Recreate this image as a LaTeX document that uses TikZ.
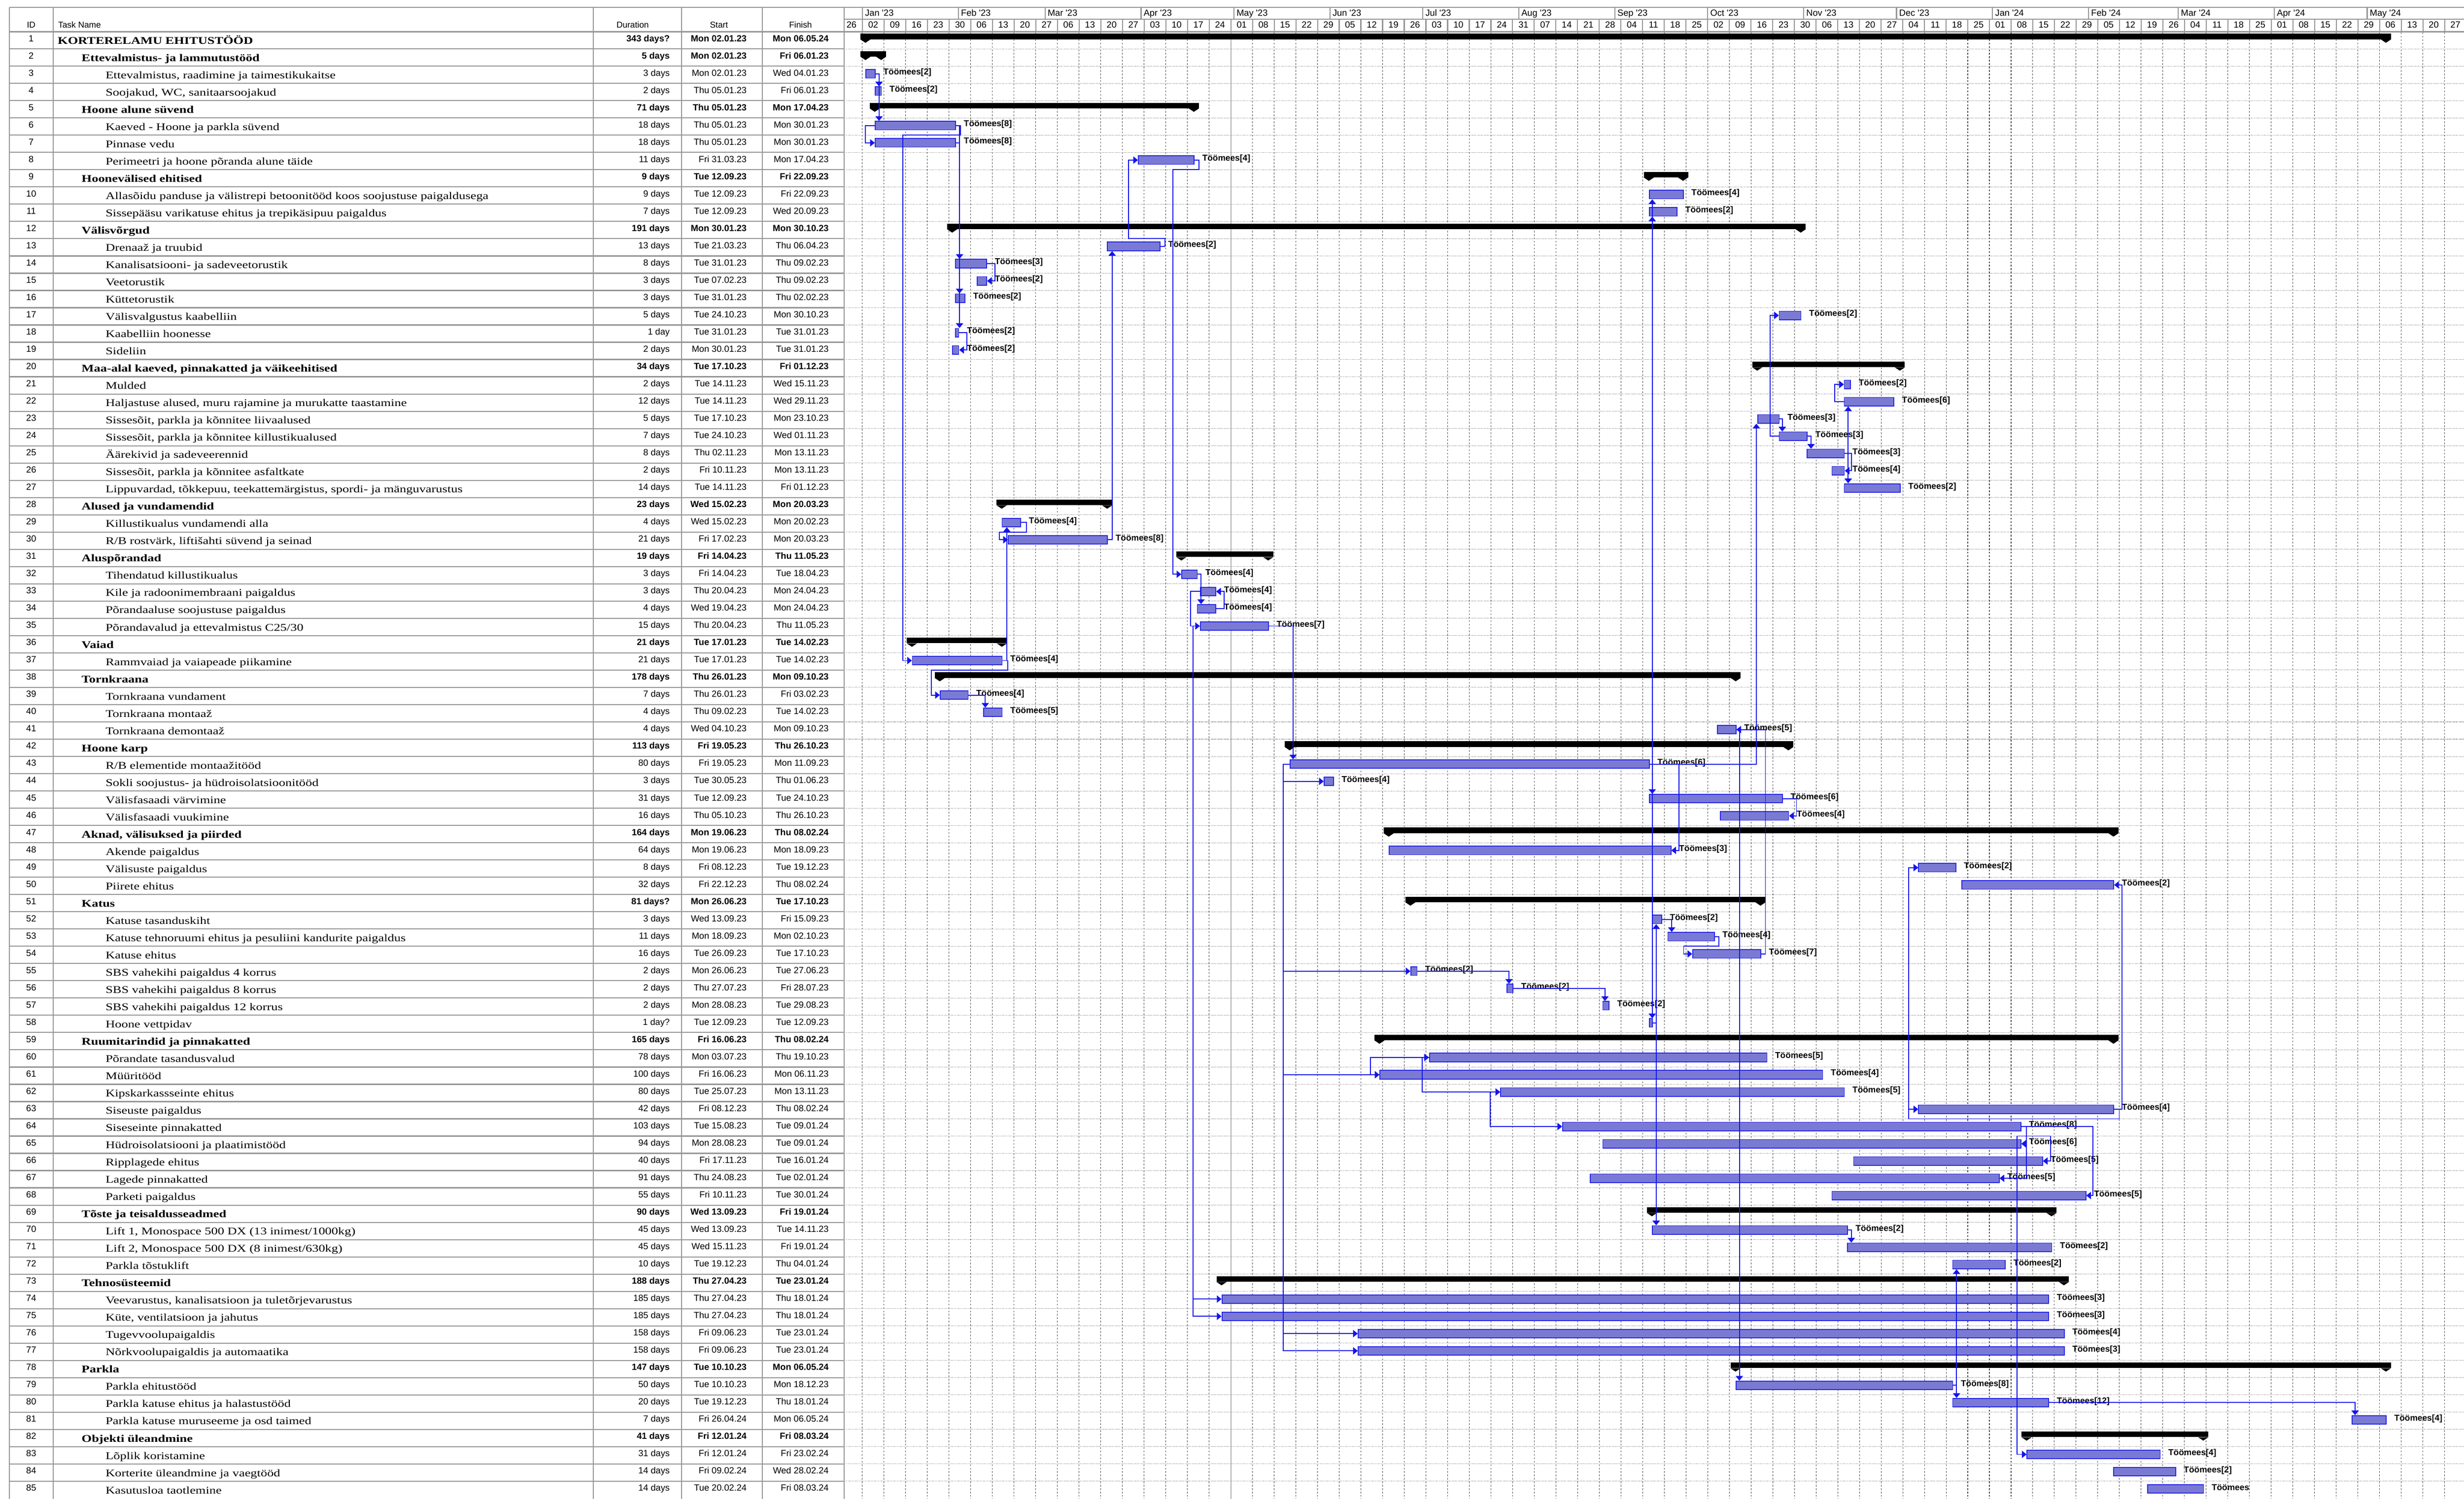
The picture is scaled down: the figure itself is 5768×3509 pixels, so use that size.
\documentclass[tikz,border=0pt]{standalone}
\usepackage{fontspec}
\usetikzlibrary{arrows.meta,calc}
\newfontfamily\namefont[FakeStretch=1.27]{Liberation Serif}
\newfontfamily\cellfont{Liberation Sans}
\definecolor{linkblue}{RGB}{20,20,235}
\definecolor{barfill}{RGB}{122,122,212}
\definecolor{barline}{RGB}{40,40,230}
\definecolor{rulegray}{RGB}{150,150,150}
\pgfdeclarelayer{gridlayer}
\pgfdeclarelayer{edgelayer}
\pgfdeclarelayer{nodelayer}
\pgfsetlayers{gridlayer,nodelayer,edgelayer,main}
\tikzstyle{tablerule}=[draw=rulegray, line width=2.5pt]
\tikzstyle{rowrule}=[draw=black!45, line width=1.2pt, dash pattern=on 1.5pt off 1.5pt]
\tikzstyle{weekrule}=[draw=black!70, line width=1.2pt, dash pattern=on 4pt off 4pt]
\tikzstyle{headcell}=[anchor=base, inner sep=0pt, font=\cellfont\fontsize{20}{24}\selectfont]
\tikzstyle{monthcell}=[anchor=base west, inner sep=0pt, font=\cellfont\fontsize{21}{24}\selectfont]
\tikzstyle{weekcell}=[anchor=base, inner sep=0pt, font=\cellfont\fontsize{21}{24}\selectfont]
\tikzstyle{idcell}=[anchor=base, inner sep=0pt, font=\cellfont\fontsize{21}{24}\selectfont]
\tikzstyle{name1}=[anchor=base west, inner sep=0pt, xshift=135pt, yshift=-6pt, font=\namefont\bfseries\fontsize{24}{28}\selectfont]
\tikzstyle{name2}=[anchor=base west, inner sep=0pt, xshift=191pt, yshift=-6pt, font=\namefont\bfseries\fontsize{24}{28}\selectfont]
\tikzstyle{name3}=[anchor=base west, inner sep=0pt, xshift=247pt, yshift=-6pt, font=\namefont\fontsize{24}{28}\selectfont]
\tikzstyle{cell1}=[anchor=base east, inner sep=0pt, font=\cellfont\bfseries\fontsize{21}{24}\selectfont]
\tikzstyle{cell2}=[cell1]
\tikzstyle{cell3}=[anchor=base east, inner sep=0pt, font=\cellfont\fontsize{21}{24}\selectfont]
\tikzstyle{sumbar}=[fill=black, minimum height=13pt, inner sep=0pt, anchor=west, xshift=-12pt, yshift=6.5pt]
\tikzstyle{taskbar}=[draw=barline, fill=barfill, line width=2pt, minimum height=20pt, inner sep=0pt, anchor=west]
\tikzstyle{crew}=[anchor=west, inner sep=0pt, xshift=18pt, yshift=3pt, font=\cellfont\bfseries\fontsize{20}{22}\selectfont]
\tikzstyle{link}=[draw=linkblue, line width=2.2pt, -{Triangle[width=17pt,length=11pt]}]

\begin{document}
\begin{tikzpicture}[x=1pt, y=-1pt]
	\useasboundingbox (0,0) rectangle (5768,3509);
	\begin{pgfonlayer}{gridlayer}
		\fill[white] (0,0) rectangle (5768,3509);
		\foreach \k in {0,...,73} \draw[weekrule] ({2018.75+50.736*\k},76) -- ({2018.75+50.736*\k},3509);
		\foreach \k in {1,...,84} {
			\draw[rowrule] (1976,{74+40.4*\k}) -- (5768,{74+40.4*\k});
			\draw[tablerule] (22,{74+40.4*\k}) -- (1976,{74+40.4*\k});
		}
		\draw[line width=2pt, black!30] (2882,76) -- (2882,3509);
		\foreach \x in {22,125,1389,1595,1785,1976} \draw[tablerule] (\x,17) -- (\x,3509);
		\draw[tablerule] (22,17) -- (5768,17);
		\draw[tablerule] (1976,45) -- (5768,45);
		\draw[tablerule, line width=4pt] (22,74.5) -- (5768,74.5);
		\foreach \d in {-1,30,58,89,119,150,180,211,242,272,303,333,364,395,424,455,485} \draw[tablerule] ({2026+7.248*\d},17) -- ({2026+7.248*\d},45);
		\foreach \k in {0,...,73} \draw[tablerule] ({2018.75+50.736*\k},45) -- ({2018.75+50.736*\k},74);
	\end{pgfonlayer}
	\begin{pgfonlayer}{nodelayer}
		\node [style=headcell] (hid) at (73,65) {ID};
		\node [style=headcell, anchor=base west] (hname) at (136,65) {Task Name};
		\node [style=headcell] (hdur) at (1481,65) {Duration};
		\node [style=headcell] (hstart) at (1683,65) {Start};
		\node [style=headcell] (hfin) at (1874,65) {Finish};
		\foreach \d/\m [count=\c] in {-1/Jan '23, 30/Feb '23, 58/Mar '23, 89/Apr '23, 119/May '23, 150/Jun '23, 180/Jul '23, 211/Aug '23, 242/Sep '23, 272/Oct '23, 303/Nov '23, 333/Dec '23, 364/Jan '24, 395/Feb '24, 424/Mar '24, 455/Apr '24, 485/May '24}
			\node [style=monthcell] (mo\c) at ({2032+7.248*\d},38) {\m};
		\foreach \w [count=\k from 0] in {26,02,09,16,23,30,06,13,20,27,06,13,20,27,03,10,17,24,01,08,15,22,29,05,12,19,26,03,10,17,24,31,07,14,21,28,04,11,18,25,02,09,16,23,30,06,13,20,27,04,11,18,25,01,08,15,22,29,05,12,19,26,04,11,18,25,01,08,15,22,29,06,13,20,27}
			\node [style=weekcell] (wk\k) at ({1993.38+50.736*\k},65) {\w};
	\end{pgfonlayer}
	\begin{scope}[yshift=-56.6pt, y=-40.4pt]
	\begin{pgfonlayer}{nodelayer}
		\foreach \rid/\lv/\nm/\du/\sta/\fin in {
			1/1/KORTERELAMU EHITUSTÖÖD/343 days?/Mon 02.01.23/Mon 06.05.24,
			2/2/Ettevalmistus- ja lammutustööd/5 days/Mon 02.01.23/Fri 06.01.23,
			3/3/{Ettevalmistus, raadimine ja taimestikukaitse}/3 days/Mon 02.01.23/Wed 04.01.23,
			4/3/{Soojakud, WC, sanitaarsoojakud}/2 days/Thu 05.01.23/Fri 06.01.23,
			5/2/Hoone alune süvend/71 days/Thu 05.01.23/Mon 17.04.23,
			6/3/Kaeved - Hoone ja parkla süvend/18 days/Thu 05.01.23/Mon 30.01.23,
			7/3/Pinnase vedu/18 days/Thu 05.01.23/Mon 30.01.23,
			8/3/Perimeetri ja hoone põranda alune täide/11 days/Fri 31.03.23/Mon 17.04.23,
			9/2/Hoonevälised ehitised/9 days/Tue 12.09.23/Fri 22.09.23,
			10/3/Allasõidu panduse ja välistrepi betoonitööd koos soojustuse paigaldusega/9 days/Tue 12.09.23/Fri 22.09.23,
			11/3/Sissepääsu varikatuse ehitus ja trepikäsipuu paigaldus/7 days/Tue 12.09.23/Wed 20.09.23,
			12/2/Välisvõrgud/191 days/Mon 30.01.23/Mon 30.10.23,
			13/3/Drenaaž ja truubid/13 days/Tue 21.03.23/Thu 06.04.23,
			14/3/Kanalisatsiooni- ja sadeveetorustik/8 days/Tue 31.01.23/Thu 09.02.23,
			15/3/Veetorustik/3 days/Tue 07.02.23/Thu 09.02.23,
			16/3/Küttetorustik/3 days/Tue 31.01.23/Thu 02.02.23,
			17/3/Välisvalgustus kaabelliin/5 days/Tue 24.10.23/Mon 30.10.23,
			18/3/Kaabelliin hoonesse/1 day/Tue 31.01.23/Tue 31.01.23,
			19/3/Sideliin/2 days/Mon 30.01.23/Tue 31.01.23,
			20/2/{Maa-alal kaeved, pinnakatted ja väikeehitised}/34 days/Tue 17.10.23/Fri 01.12.23,
			21/3/Mulded/2 days/Tue 14.11.23/Wed 15.11.23,
			22/3/{Haljastuse alused, muru rajamine ja murukatte taastamine}/12 days/Tue 14.11.23/Wed 29.11.23,
			23/3/{Sissesõit, parkla ja kõnnitee liivaalused}/5 days/Tue 17.10.23/Mon 23.10.23,
			24/3/{Sissesõit, parkla ja kõnnitee killustikualused}/7 days/Tue 24.10.23/Wed 01.11.23,
			25/3/Äärekivid ja sadeveerennid/8 days/Thu 02.11.23/Mon 13.11.23,
			26/3/{Sissesõit, parkla ja kõnnitee asfaltkate}/2 days/Fri 10.11.23/Mon 13.11.23,
			27/3/{Lippuvardad, tõkkepuu, teekattemärgistus, spordi- ja mänguvarustus}/14 days/Tue 14.11.23/Fri 01.12.23,
			28/2/Alused ja vundamendid/23 days/Wed 15.02.23/Mon 20.03.23,
			29/3/Killustikualus vundamendi alla/4 days/Wed 15.02.23/Mon 20.02.23,
			30/3/{R/B rostvärk, liftišahti süvend ja seinad}/21 days/Fri 17.02.23/Mon 20.03.23,
			31/2/Aluspõrandad/19 days/Fri 14.04.23/Thu 11.05.23,
			32/3/Tihendatud killustikualus/3 days/Fri 14.04.23/Tue 18.04.23,
			33/3/Kile ja radoonimembraani paigaldus/3 days/Thu 20.04.23/Mon 24.04.23,
			34/3/Põrandaaluse soojustuse paigaldus/4 days/Wed 19.04.23/Mon 24.04.23,
			35/3/{Põrandavalud ja ettevalmistus C25/30}/15 days/Thu 20.04.23/Thu 11.05.23,
			36/2/Vaiad/21 days/Tue 17.01.23/Tue 14.02.23,
			37/3/Rammvaiad ja vaiapeade piikamine/21 days/Tue 17.01.23/Tue 14.02.23,
			38/2/Tornkraana/178 days/Thu 26.01.23/Mon 09.10.23,
			39/3/Tornkraana vundament/7 days/Thu 26.01.23/Fri 03.02.23,
			40/3/Tornkraana montaaž/4 days/Thu 09.02.23/Tue 14.02.23,
			41/3/Tornkraana demontaaž/4 days/Wed 04.10.23/Mon 09.10.23,
			42/2/Hoone karp/113 days/Fri 19.05.23/Thu 26.10.23,
			43/3/{R/B elementide montaažitööd}/80 days/Fri 19.05.23/Mon 11.09.23,
			44/3/Sokli soojustus- ja hüdroisolatsioonitööd/3 days/Tue 30.05.23/Thu 01.06.23,
			45/3/Välisfasaadi värvimine/31 days/Tue 12.09.23/Tue 24.10.23,
			46/3/Välisfasaadi vuukimine/16 days/Thu 05.10.23/Thu 26.10.23,
			47/2/{Aknad, välisuksed ja piirded}/164 days/Mon 19.06.23/Thu 08.02.24,
			48/3/Akende paigaldus/64 days/Mon 19.06.23/Mon 18.09.23,
			49/3/Välisuste paigaldus/8 days/Fri 08.12.23/Tue 19.12.23,
			50/3/Piirete ehitus/32 days/Fri 22.12.23/Thu 08.02.24,
			51/2/Katus/81 days?/Mon 26.06.23/Tue 17.10.23,
			52/3/Katuse tasanduskiht/3 days/Wed 13.09.23/Fri 15.09.23,
			53/3/Katuse tehnoruumi ehitus ja pesuliini kandurite paigaldus/11 days/Mon 18.09.23/Mon 02.10.23,
			54/3/Katuse ehitus/16 days/Tue 26.09.23/Tue 17.10.23,
			55/3/SBS vahekihi paigaldus 4 korrus/2 days/Mon 26.06.23/Tue 27.06.23,
			56/3/SBS vahekihi paigaldus 8 korrus/2 days/Thu 27.07.23/Fri 28.07.23,
			57/3/SBS vahekihi paigaldus 12 korrus/2 days/Mon 28.08.23/Tue 29.08.23,
			58/3/Hoone vettpidav/1 day?/Tue 12.09.23/Tue 12.09.23,
			59/2/Ruumitarindid ja pinnakatted/165 days/Fri 16.06.23/Thu 08.02.24,
			60/3/Põrandate tasandusvalud/78 days/Mon 03.07.23/Thu 19.10.23,
			61/3/Müüritööd/100 days/Fri 16.06.23/Mon 06.11.23,
			62/3/Kipskarkassseinte ehitus/80 days/Tue 25.07.23/Mon 13.11.23,
			63/3/Siseuste paigaldus/42 days/Fri 08.12.23/Thu 08.02.24,
			64/3/Siseseinte pinnakatted/103 days/Tue 15.08.23/Tue 09.01.24,
			65/3/Hüdroisolatsiooni ja plaatimistööd/94 days/Mon 28.08.23/Tue 09.01.24,
			66/3/Ripplagede ehitus/40 days/Fri 17.11.23/Tue 16.01.24,
			67/3/Lagede pinnakatted/91 days/Thu 24.08.23/Tue 02.01.24,
			68/3/Parketi paigaldus/55 days/Fri 10.11.23/Tue 30.01.24,
			69/2/Tõste ja teisaldusseadmed/90 days/Wed 13.09.23/Fri 19.01.24,
			70/3/{Lift 1, Monospace 500 DX (13 inimest/1000kg)}/45 days/Wed 13.09.23/Tue 14.11.23,
			71/3/{Lift 2, Monospace 500 DX (8 inimest/630kg)}/45 days/Wed 15.11.23/Fri 19.01.24,
			72/3/Parkla tõstuklift/10 days/Tue 19.12.23/Thu 04.01.24,
			73/2/Tehnosüsteemid/188 days/Thu 27.04.23/Tue 23.01.24,
			74/3/{Veevarustus, kanalisatsioon ja tuletõrjevarustus}/185 days/Thu 27.04.23/Thu 18.01.24,
			75/3/{Küte, ventilatsioon ja jahutus}/185 days/Thu 27.04.23/Thu 18.01.24,
			76/3/Tugevvoolupaigaldis/158 days/Fri 09.06.23/Tue 23.01.24,
			77/3/Nõrkvoolupaigaldis ja automaatika/158 days/Fri 09.06.23/Tue 23.01.24,
			78/2/Parkla/147 days/Tue 10.10.23/Mon 06.05.24,
			79/3/Parkla ehitustööd/50 days/Tue 10.10.23/Mon 18.12.23,
			80/3/Parkla katuse ehitus ja halastustööd/20 days/Tue 19.12.23/Thu 18.01.24,
			81/3/Parkla katuse muruseeme ja osd taimed/7 days/Fri 26.04.24/Mon 06.05.24,
			82/2/Objekti üleandmine/41 days/Fri 12.01.24/Fri 08.03.24,
			83/3/Lõplik koristamine/31 days/Fri 12.01.24/Fri 23.02.24,
			84/3/Korterite üleandmine ja vaegtööd/14 days/Fri 09.02.24/Wed 28.02.24,
			85/3/Kasutusloa taotlemine/14 days/Tue 20.02.24/Fri 08.03.24}
		{
			\node [style=idcell] (id\rid) at (73,\rid) {\rid};
			\node [style=name\lv] (nm\rid) at (0,\rid) {\nm};
			\node [style=cell\lv] (du\rid) at (1568,\rid) {\du};
			\node [style=cell\lv] (st\rid) at (1748,\rid) {\sta};
			\node [style=cell\lv] (fi\rid) at (1940,\rid) {\fin};
		}
	\end{pgfonlayer}
	\end{scope}
	\begin{scope}[xshift=2026pt, yshift=-51.6pt, x=7.248pt, y=-40.4pt]
	\begin{pgfonlayer}{nodelayer}
		\foreach \br/\bs/\bn in {1/0/491, 2/0/5, 5/3/103, 9/253/11, 12/28/274, 20/288/46, 28/44/34, 31/102/28, 36/15/29, 38/24/257, 42/137/161, 47/169/234, 51/176/113, 59/166/237, 69/254/129, 73/115/272, 78/281/210, 82/375/57} {
			\node [style=sumbar, minimum width={\bn*7.248pt+24pt}] (s\br) at (\bs,\br) {};
			\fill (s\br.south west) -- ++(24pt,0) -- ++(-12pt,-8pt) -- cycle;
			\fill (s\br.south east) -- ++(-24pt,0) -- ++(12pt,-8pt) -- cycle;
		}
		\foreach \br/\bs/\bn/\bw in {3/0/3/2, 4/3/2/2, 6/3/26/8, 7/3/26/8, 8/88/18/4, 10/253/11/4, 11/253/9/2, 13/78/17/2, 14/29/10/3, 15/36/3/2, 16/29/3/2, 17/295/7/2, 18/29/1/2, 19/28/2/2, 21/316/2/2, 22/316/16/6, 23/288/7/3, 24/295/9/3, 25/304/12/3, 26/312/4/4, 27/316/18/2, 29/44/6/4, 30/46/32/8, 32/102/5/4, 33/108/5/4, 34/107/6/4, 35/108/22/7, 37/15/29/4, 39/24/9/4, 40/38/6/5, 41/275/6/5, 43/137/116/6, 44/148/3/4, 45/253/43/6, 46/276/22/4, 48/169/91/3, 49/340/12/2, 50/354/49/2, 52/254/3/2, 53/259/15/4, 54/267/22/7, 55/176/2/2, 56/207/2/2, 57/238/2/2, 60/182/109/5, 61/166/143/4, 62/205/111/5, 63/340/63/4, 64/225/148/8, 65/238/135/6, 66/319/61/5, 67/234/132/5, 68/312/82/5, 70/254/63/2, 71/317/66/2, 72/351/17/2, 74/115/267/3, 75/115/267/3, 76/159/228/4, 77/159/228/3, 79/281/70/8, 80/351/31/12, 81/480/11/4, 83/375/43/4, 84/403/20/2} {
			\node [style=taskbar, minimum width=\bn*7.248pt] (t\br) at (\bs,\br) {};
			\node [style=crew] (c\br) at (t\br.east) {Töömees[\bw]};
		}
		\node [style=taskbar, minimum width=18*7.248pt] (t85) at (414,85) {};
		\node [style=crew] (c85) at (t85.east) {Töömees};
		\node [style=taskbar, minimum width=7.248pt] (t58) at (253,58) {};
	\end{pgfonlayer}
	\begin{pgfonlayer}{edgelayer}
		\draw[link] (t3.east) -| ([xshift=10pt]t4.north west);
		\draw[link] (t3.east) -| ([xshift=10pt]t6.north west);
		\draw[link] (t6.west) -- ++(-22pt,0) |- (t7.west);
		\draw[link] (t6.east) -- ++(10pt,0) -- ++(0,-22.4pt) -| ([xshift=-21pt]t37.west) -- (t37.west);
		\draw[link] (t6.east) -| ([xshift=10pt]t14.north west);
		\draw[link] (t7.east) -| ([xshift=10pt]t16.north west);
		\draw[link] (t7.east) -| ([xshift=10pt]t18.north west);
		\draw[link] (t14.east) -- ++(18pt,0) |- (t15.east);
		\draw[link] (t18.east) -- ++(18pt,0) |- (t19.east);
		\draw[link] (t30.east) -| ([xshift=12pt]t13.south west);
		\draw[link] (t13.east) -- ++(10pt,0) -- ++(0,18pt) -| ([xshift=-22pt]t8.west) -- (t8.west);
		\draw[link] (t8.east) -- ++(10pt,0) -- ++(0,-22.4pt) -| ([xshift=-20pt]t32.west) -- (t32.west);
		\draw[link] (t32.east) -| ([xshift=10pt]t34.north west);
		\draw[link] (t34.east) -- ++(18pt,0) |- (t33.east);
		\draw[link] (t33.west) -- ++(-22pt,0) |- (t35.west);
		\draw[link] (t35.west) -- ++(-16pt,0) |- (t74.west);
		\draw[link] (t35.west) -- ++(-16pt,0) |- (t75.west);
		\draw[link] (t35.east) -| ([xshift=8pt]t43.north west);
		\draw[link] (t43.west) -- ++(-15pt,0) |- (t44.west);
		\draw[link] (t43.west) -- ++(-15pt,0) |- (t55.west);
		\draw[link] (t43.west) -- ++(-15pt,0) |- (t61.west);
		\draw[link] (t43.west) -- ++(-15pt,0) |- (t76.west);
		\draw[link] (t43.west) -- ++(-15pt,0) |- (t77.west);
		\draw[link] (t55.east) -| ([xshift=6pt]t56.north west);
		\draw[link] (t56.east) -| ([xshift=6pt]t57.north west);
		\draw[link] (t61.west) -- ++(-21pt,0) |- (t60.west);
		\draw[link] (t60.west) -- ++(-16pt,0) |- (t62.west);
		\draw[link] (t62.west) -- ++(-23pt,0) |- (t64.west);
		\draw[link] (t37.east) -- ++(12pt,0) -- ++(0,-22.4pt) -| ([xshift=-20pt]t39.west) -- (t39.west);
		\draw[link] (t37.east) -| ([xshift=12pt]t29.south west);
		\draw[link] (t29.east) -- ++(12pt,0) -- ++(0,-22.4pt) -| ([xshift=-20pt]t30.west) -- (t30.west);
		\draw[link] (t39.east) -| ([xshift=5pt]t40.north west);
		\draw[link] (t43.east) -| ([xshift=8pt]t45.north west);
		\draw[link] (t43.east) -| ([xshift=8pt]t58.north west);
		\draw[link] (t43.east) -| ([xshift=8pt]t10.south west);
		\draw[link] (t43.east) -| ([xshift=8pt]t11.south west);
		\draw[link] (t43.east) -| ([xshift=-2pt]t23.south west);
		\draw[link] (t43.east) -| ([xshift=18pt]t48.east) -- (t48.east);
		\draw[link] (t58.east) -| ([xshift=10pt]t52.south west);
		\draw[link] (t58.east) -| ([xshift=10pt]t70.north west);
		\draw[link] (t52.east) -| ([xshift=10pt]t53.north west);
		\draw[link] (t53.east) -- ++(10pt,0) -- ++(0,-22.4pt) -| ([xshift=-20pt]t54.west) -- (t54.west);
		\draw[link] (t54.east) -- ++(10pt,0) |- (t41.east);
		\draw[link] (t45.east) -- ++(32pt,0) |- (t46.east);
		\draw[link] (t41.east) -| ([xshift=9pt]t79.north west);
		\draw[link] (t23.east) -| ([xshift=8pt]t24.north west);
		\draw[link] (t24.east) -| ([xshift=10pt]t25.north west);
		\draw[link] (t24.west) -- ++(-20pt,0) |- (t17.west);
		\draw[link] (t22.west) -- ++(-22pt,0) |- (t21.west);
		\draw[link] (t25.east) -| ([xshift=10pt]t22.south west);
		\draw[link] (t25.east) -| ([xshift=10pt]t27.north west);
		\draw[link] (t25.east) -- ++(16pt,0) |- (t26.east);
		\draw[link] (t63.east) -- ++(18pt,0) |- (t50.east);
		\draw[link] (t63.east) -- ++(12pt,0) -- ++(0,-22.4pt) -| ([xshift=-22pt]t49.west) -- (t49.west);
		\draw[link] (t49.west) -- ++(-22pt,0) |- (t63.west);
		\draw[link] (t64.east) -- ++(12pt,0) |- (t65.east);
		\draw[link] (t64.east) -- ++(12pt,0) |- (t67.east);
		\draw[link] (t64.east) -- ++(168pt,0) |- (t68.east);
		\draw[link] (t64.east) -- ++(12pt,0) -- ++(0,-22.4pt) -| ([xshift=18pt]t66.east) -- (t66.east);
		\draw[link] (t64.east) -- ++(12pt,0) -- ++(0,-22.4pt) -| ([xshift=-22pt]t83.west) -- (t83.west);
		\draw[link] (t70.east) -| ([xshift=10pt]t71.north west);
		\draw[link] (t79.east) -| ([xshift=10pt]t72.south west);
		\draw[link] (t79.east) -| ([xshift=10pt]t80.north west);
		\draw[link] (t80.east) -| ([xshift=8pt]t81.north west);
	\end{pgfonlayer}
	\end{scope}
\end{tikzpicture}
\end{document}
